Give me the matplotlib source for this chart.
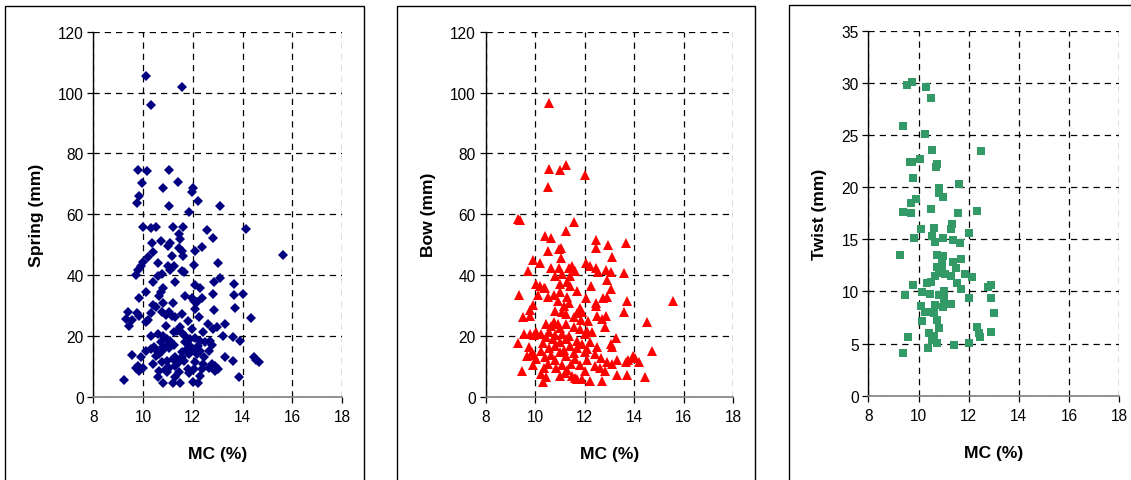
import matplotlib
matplotlib.use("Agg")
import matplotlib.pyplot as plt
from matplotlib.patches import Rectangle

plt.rcParams['font.family'] = ['Liberation Sans', 'DejaVu Sans']

# ---------------- data ----------------
spring_mc = [10.10, 11.55, 10.3, 9.8, 10.15, 11.05, 11.4, 9.95, 10.8, 12.0, 11.95, 9.85, 12.2, 9.75,
             11.05, 13.1, 11.85, 10.0, 10.3, 10.5, 11.2, 11.6, 14.15, 12.55, 11.45, 12.8, 11.5, 10.7,
             11.1, 10.35, 11.0, 12.35, 11.45, 11.55, 12.1, 10.4, 11.6, 11.15, 15.6, 10.2, 10.0, 9.9,
             10.6, 11.0, 12.05, 13.0, 11.25, 11.1, 11.55, 11.65, 9.8, 9.7, 10.75, 10.6, 13.1, 10.4,
             11.3, 12.85, 13.65, 12.1, 12.3, 10.1, 10.8, 10.7, 10.65, 11.7, 12.8, 13.65, 14.0, 9.85,
             11.95, 12.35, 12.05, 11.2, 10.8, 10.4, 10.5, 12.15, 12.1, 12.85, 13.7, 10.3, 9.4, 9.75,
             9.85, 10.75, 10.9, 11.05, 11.15, 11.3, 11.55, 12.25, 14.35, 9.3, 9.55, 10.1, 10.2, 11.8,
             12.6, 13.3, 9.45, 10.9, 11.95, 11.5, 11.35, 12.95, 12.8, 12.4, 11.25, 11.55, 10.3, 10.6,
             10.8, 11.7, 13.2, 13.6, 13.9, 10.95, 11.1, 11.9, 12.1, 12.3, 12.5, 12.7, 10.7, 11.25,
             11.7, 11.9, 12.2, 12.75, 10.45, 10.8, 10.95, 10.3, 10.1, 10.5, 10.75, 11.05, 11.75, 12.0,
             12.3, 12.65, 11.55, 10.65, 10.5, 11.85, 12.15, 9.55, 9.9, 11.3, 11.55, 12.45, 13.3, 14.45,
             14.55, 14.65, 13.6, 11.2, 10.95, 10.75, 10.4, 11.45, 11.65, 12.1, 12.4, 12.75, 12.9, 13.0,
             12.9, 9.7, 9.85, 10.0, 9.8, 9.85, 10.9, 11.05, 11.3, 11.8, 12.05, 12.35, 12.65, 10.65,
             10.95, 11.45, 11.85, 12.3, 10.6, 11.3, 13.85, 9.25, 12.0, 12.2, 10.8, 11.2, 11.5]
spring_mm = [105.4, 101.9, 95.9, 74.5, 74.1, 74.5, 70.5, 70.1, 68.5, 68.6, 67.2, 66.1, 64.4, 63.7,
             62.8, 62.8, 60.8, 55.9, 55.6, 55.9, 55.9, 55.9, 55.1, 54.8, 53.5, 52.1, 51.8, 51.1,
             50.5, 50.5, 49.4, 49.1, 48.8, 47.9, 47.8, 47.5, 46.4, 46.2, 46.7, 45.8, 44.2, 43.1,
             43.8, 43.1, 43.4, 43.8, 43.1, 41.8, 41.4, 40.9, 41.5, 40.0, 40.2, 39.8, 38.9, 37.8,
             37.8, 37.8, 37.0, 36.7, 35.8, 34.5, 35.8, 34.3, 33.0, 33.2, 33.8, 33.4, 33.8, 32.4,
             32.3, 32.4, 31.6, 30.9, 30.7, 30.2, 29.4, 31.0, 28.8, 28.6, 29.0, 27.4, 27.9, 27.4,
             26.6, 27.7, 27.0, 27.7, 26.6, 26.1, 27.2, 26.3, 25.8, 25.5, 25.3, 24.7, 25.2, 24.8,
             23.9, 23.9, 23.3, 23.3, 22.2, 22.8, 21.7, 22.8, 22.2, 21.4, 21.2, 20.9, 20.1, 20.6,
             20.1, 20.1, 20.1, 19.5, 18.4, 19.0, 18.4, 19.0, 19.2, 18.4, 17.9, 18.4, 17.9, 17.1,
             17.9, 16.8, 16.8, 17.1, 16.5, 16.2, 16.8, 15.7, 15.1, 15.5, 15.1, 15.9, 15.7, 15.3,
             15.1, 15.1, 14.6, 14.2, 13.5, 14.2, 14.0, 13.7, 12.9, 12.9, 12.9, 12.9, 12.9, 12.9,
             12.2, 11.3, 11.8, 12.4, 11.8, 11.3, 10.7, 11.3, 11.8, 11.3, 10.7, 10.7, 10.0, 9.1,
             8.3, 9.6, 9.1, 9.6, 10.2, 8.5, 9.1, 9.6, 10.0, 9.1, 9.1, 9.1, 9.6, 8.5,
             8.0, 8.0, 7.8, 6.9, 6.4, 6.4, 6.4, 5.6, 4.9, 4.5, 4.4, 4.4, 4.5]

bow_mc = [10.55, 10.55, 11.0, 11.25, 12.0, 10.5, 9.3, 9.4, 11.55, 11.25, 10.4, 10.65, 12.45, 13.65,
          12.95, 10.95, 11.05, 12.45, 10.5, 13.1, 11.05, 9.9, 10.2, 12.05, 12.2, 11.5, 11.35, 12.45,
          10.65, 10.95, 12.85, 9.7, 11.6, 12.55, 13.05, 13.6, 11.1, 10.8, 11.4, 12.9, 11.3, 10.05,
          11.0, 11.4, 12.25, 10.2, 10.35, 10.4, 13.05, 11.7, 11.0, 9.35, 10.1, 10.75, 10.5, 10.9,
          11.3, 12.05, 12.75, 12.9, 13.7, 15.55, 11.35, 12.45, 9.9, 11.15, 12.45, 11.8, 9.8, 10.8,
          11.1, 13.6, 11.9, 11.7, 11.25, 9.8, 9.5, 12.5, 12.85, 11.55, 12.7, 11.85, 12.15, 10.75,
          14.5, 10.45, 10.9, 11.25, 10.65, 11.0, 11.55, 12.8, 11.8, 12.1, 10.55, 10.05, 10.25, 9.55,
          9.8, 9.95, 10.8, 11.1, 11.35, 12.0, 12.3, 10.45, 10.7, 13.25, 11.25, 11.7, 12.2, 9.3,
          10.3, 11.0, 11.9, 13.05, 13.1, 10.8, 11.4, 12.5, 9.75, 10.55, 11.7, 12.1, 11.15, 10.25,
          11.0, 14.7, 9.85, 11.55, 12.0, 12.4, 9.95, 10.65, 9.65, 10.4, 11.25, 12.65, 13.95, 14.05,
          13.75, 10.05, 10.8, 11.6, 12.1, 13.3, 12.9, 13.65, 14.2, 13.1, 9.9, 10.5, 11.1, 11.45,
          11.8, 12.4, 10.35, 10.85, 11.3, 12.6, 12.8, 9.45, 12.0, 10.25, 11.0, 11.5, 13.3, 13.7,
          10.45, 11.7, 11.9, 12.2, 12.7, 14.45, 10.3, 11.6, 11.2]
bow_mm = [96.5, 74.8, 74.5, 76.2, 73.0, 68.8, 58.4, 58.0, 57.5, 54.4, 52.7, 52.3, 51.5, 50.6,
          49.9, 48.5, 48.8, 48.8, 48.0, 45.8, 45.5, 45.0, 43.8, 43.9, 43.1, 43.1, 42.2, 42.2,
          42.2, 42.2, 41.8, 41.4, 41.4, 40.9, 40.9, 40.7, 40.5, 39.8, 39.8, 38.4, 37.8, 37.0,
          37.0, 36.5, 36.3, 36.5, 35.7, 35.6, 35.4, 34.8, 34.3, 33.4, 33.5, 33.4, 32.7, 31.6,
          32.7, 32.3, 32.3, 32.7, 31.6, 31.3, 30.8, 30.8, 30.1, 29.9, 29.9, 29.0, 28.6, 28.3,
          27.9, 27.9, 27.7, 27.5, 27.2, 26.6, 26.1, 26.6, 26.6, 26.1, 25.5, 25.3, 24.9, 24.7,
          24.4, 23.9, 23.9, 23.9, 23.1, 22.6, 22.8, 22.8, 22.2, 21.7, 21.2, 21.2, 20.6, 20.6,
          20.6, 20.3, 20.3, 20.6, 20.1, 20.6, 21.2, 19.5, 19.0, 19.2, 19.0, 18.4, 17.9, 17.6,
          17.6, 17.9, 17.3, 17.3, 16.5, 16.8, 16.8, 16.5, 16.2, 15.9, 15.9, 15.7, 15.5, 15.1,
          14.8, 14.9, 14.6, 14.4, 14.6, 14.0, 13.7, 13.7, 13.3, 12.9, 13.3, 12.6, 13.5, 12.6,
          12.2, 12.4, 12.2, 12.4, 12.2, 12.2, 11.5, 11.5, 11.3, 10.7, 10.4, 10.7, 10.4, 10.7,
          10.4, 10.2, 9.6, 9.3, 8.9, 9.3, 8.5, 8.3, 8.5, 7.5, 6.9, 6.7, 7.1, 7.1,
          6.4, 5.8, 5.8, 5.3, 5.3, 6.4, 4.7, 6.0, 7.7]

twist_mc = [9.73, 9.53, 10.31, 10.5, 9.4, 10.25, 10.55, 12.5, 10.05, 9.68, 9.75, 10.75, 10.7, 9.77,
            11.62, 10.82, 10.8, 10.97, 9.9, 9.7, 10.5, 12.33, 9.4, 9.7, 11.58, 11.32, 11.3, 10.6,
            10.08, 12.0, 10.55, 9.82, 10.98, 10.65, 11.37, 11.65, 9.28, 10.72, 10.98, 10.95, 11.7,
            11.37, 10.75, 10.93, 11.5, 10.8, 11.04, 10.67, 11.3, 11.85, 12.12, 9.77, 11.52, 10.48,
            10.35, 11.7, 12.78, 12.9, 10.15, 10.45, 11.02, 9.47, 10.8, 11.0, 12.0, 12.9, 11.3,
            10.08, 10.65, 10.98, 10.25, 10.45, 10.6, 13.0, 10.75, 10.12, 10.8, 12.33, 12.42, 12.88,
            10.43, 10.6, 12.45, 9.57, 10.55, 10.75, 12.0, 11.4, 10.37, 9.4]
twist_mm = [30.1, 29.8, 29.6, 28.5, 25.9, 25.1, 23.6, 23.5, 22.7, 22.4, 22.4, 22.2, 21.9, 20.9,
            20.3, 19.9, 19.4, 19.1, 18.9, 18.5, 17.9, 17.7, 17.6, 17.5, 17.5, 16.5, 16.0, 16.1,
            16.0, 15.6, 15.3, 15.1, 15.1, 14.7, 14.9, 14.6, 13.5, 13.5, 13.4, 13.2, 13.1,
            12.8, 12.3, 12.4, 12.2, 11.8, 11.7, 11.5, 11.5, 11.7, 11.4, 10.6, 10.8, 10.9,
            10.8, 10.2, 10.4, 10.6, 9.9, 9.8, 10.0, 9.7, 9.7, 9.3, 9.4, 9.4, 8.8,
            8.6, 8.7, 8.5, 8.05, 8.0, 7.9, 7.9, 7.3, 7.2, 6.5, 6.6, 6.0, 6.1,
            6.0, 5.75, 5.6, 5.6, 5.3, 5.1, 5.05, 4.9, 4.6, 4.05]

x_ticks = [8, 10, 12, 14, 16, 18]
spring_ticks = [0, 20, 40, 60, 80, 100, 120]
bow_ticks = [0, 20, 40, 60, 80, 100, 120]
twist_ticks = [0, 5, 10, 15, 20, 25, 30, 35]
x_label = "MC (%)"

# ---------------- figure ----------------
W, H = 1131, 481
fig = plt.figure(figsize=(W / 100, H / 100), dpi=100)

def px_axes(x0, x1, ytop, ybot):
    return [x0 / W, 1 - ybot / H, (x1 - x0) / W, (ybot - ytop) / H]

# panel frames
for (fx0, fx1, fy0) in [(4.7, 364, 7.3), (397.3, 755, 6.7), (789, 1140, 5.7)]:
    fig.patches.append(Rectangle((fx0 / W, -0.05), (fx1 - fx0) / W, 1 - fy0 / H + 0.05,
                                 transform=fig.transFigure, fill=False,
                                 edgecolor='black', linewidth=1.0))

panels = [
    (px_axes(93.3, 342.3, 32.7, 397.7), spring_mc, spring_mm, spring_ticks, "Spring (mm)",
     dict(marker='D', color='#000080', ms=5.6)),
    (px_axes(485.7, 733.3, 32.7, 397.7), bow_mc, bow_mm, bow_ticks, "Bow (mm)",
     dict(marker='^', color='#FF0000', ms=7.3)),
    (px_axes(868.3, 1119.3, 31.7, 396.7), twist_mc, twist_mm, twist_ticks, "Twist (mm)",
     dict(marker='s', color='#339966', ms=5.4)),
]

for rect, xs, ys, yt, ylab, mk in panels:
    ax = fig.add_axes(rect)
    ax.set_xlim(x_ticks[0], x_ticks[-1])
    ax.set_ylim(yt[0], yt[-1])
    ax.set_xticks(x_ticks)
    ax.set_yticks(yt)
    ax.grid(True, linestyle=(0, (5, 4)), color='black', linewidth=0.9)
    ax.set_axisbelow(True)
    for s in ['top', 'right']:
        ax.spines[s].set_visible(False)
    ax.spines['left'].set_color('black')
    ax.spines['bottom'].set_color('#808080')
    ax.spines['left'].set_linewidth(1.0)
    ax.spines['bottom'].set_linewidth(1.2)
    ax.tick_params(axis='both', direction='out', length=4, width=0.9,
                   labelsize=11.2, colors='black', pad=3)
    ax.tick_params(axis='x', pad=5)
    ax.plot(xs, ys, linestyle='none', marker=mk['marker'], color=mk['color'],
            markersize=mk['ms'], markeredgewidth=0, clip_on=False, zorder=3)
    ax.set_xlabel(x_label, fontsize=12.6, fontweight='bold', labelpad=16)
    ax.set_ylabel(ylab, fontsize=12.6, fontweight='bold', labelpad=10)

fig.savefig("out.png", dpi=100)
